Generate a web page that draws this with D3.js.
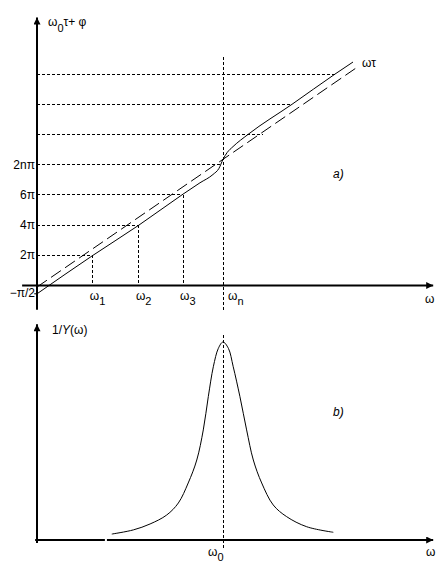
<!DOCTYPE html>
<html>
<head>
<meta charset="utf-8">
<script src="https://cdnjs.cloudflare.com/ajax/libs/d3/7.8.5/d3.min.js"></script>
<style>
  body { margin: 0; background: #fff; }
  text { font-family: "Liberation Sans", Arial, sans-serif; font-size: 12px; fill: #000; }
</style>
</head>
<body>
<div class="viewbox"></div>
<script>
const svg_width = 447;
const svg_height = 574;

// --- data (ω in units of ωn, phase in units of π) ---
const phaseTickValues = [-0.5, 2, 4, 6, 8];
const phaseTickLabels = ["\u2212\u03c0/2", "2\u03c0", "4\u03c0", "6\u03c0", "2n\u03c0"];

const gridLevels = [2, 4, 6, 8, 10, 12, 14];
const gridEnds = [0.30, 0.548, 0.785, 0.984, 1.215, 1.371, 1.613];

const freqNames = ["1", "2", "3", "n"];
const freqValues = [0.30, 0.548, 0.785, 1.0];
const freqLevels = [2, 4, 6, 15.1];

// straight ωτ line
const wtLine = [[0, -0.1], [1.715, 14.4]];

// ω0τ + φ curve
const phaseCurve = [
  [0, -0.55], [0.301, 2.0], [0.548, 4.0], [0.785, 6.05], [0.876, 6.8],
  [0.946, 7.35], [0.978, 7.75], [1.0, 8.35], [1.022, 8.8], [1.054, 9.2],
  [1.134, 10.0], [1.371, 12.0], [1.602, 14.0], [1.699, 14.8]
];

// 1/Y(ω) resonance curve
const resCurve = [
  [0.402, 0.030], [0.518, 0.051], [0.608, 0.081], [0.697, 0.126], [0.760, 0.187],
  [0.813, 0.288], [0.859, 0.404], [0.894, 0.556], [0.921, 0.724], [0.948, 0.875],
  [0.975, 0.968], [1.0, 1.0], [1.029, 0.968], [1.055, 0.875], [1.091, 0.724],
  [1.127, 0.556], [1.163, 0.404], [1.208, 0.288], [1.270, 0.177], [1.342, 0.118],
  [1.450, 0.067], [1.593, 0.039]
];

// --- scales ---
const x = d3.scaleLinear().domain([0, 1]).range([37, 223]);
const yTop = d3.scaleLinear().domain([0, 14]).range([285.5, 74.1]);
const yBot = d3.scaleLinear().domain([0, 1]).range([540, 342]);

let svg = d3.select(".viewbox")
  .append("svg")
  .attr("width", svg_width)
  .attr("height", svg_height);

// filled arrow head
svg.append("defs").append("marker")
  .attr("id", "arrow")
  .attr("viewBox", "0 0 10 10")
  .attr("refX", 10).attr("refY", 5)
  .attr("markerWidth", 9).attr("markerHeight", 7)
  .attr("markerUnits", "userSpaceOnUse")
  .attr("orient", "auto")
  .append("path")
  .attr("d", "M0,0 L10,5 L0,10 z")
  .attr("fill", "#000");

function seg(g, x1, y1, x2, y2) {
  return g.append("line")
    .attr("x1", x1).attr("y1", y1)
    .attr("x2", x2).attr("y2", y2)
    .attr("stroke", "#000");
}

// ================= a) top chart =================
let topG = svg.append("g");

// horizontal dashed levels
topG.selectAll(".hgrid")
  .data(gridLevels)
  .enter()
  .append("line")
  .attr("class", "hgrid")
  .attr("x1", x(0)).attr("x2", (d, i) => x(gridEnds[i]))
  .attr("y1", d => yTop(d)).attr("y2", d => yTop(d))
  .attr("stroke", "#000").attr("stroke-dasharray", "3,2")
  .attr("shape-rendering", "crispEdges");

// vertical dashed drops
topG.selectAll(".vgrid")
  .data(freqValues)
  .enter()
  .append("line")
  .attr("class", "vgrid")
  .attr("x1", d => x(d)).attr("x2", d => x(d))
  .attr("y1", (d, i) => yTop(freqLevels[i]))
  .attr("y2", (d, i) => i === 3 ? yTop(-1.6) : yTop(0))
  .attr("stroke", "#000").attr("stroke-dasharray", "3,2")
  .attr("shape-rendering", "crispEdges");

// axes
seg(topG, x(-0.08), yTop(0), x(2.13), yTop(0))
  .attr("stroke-width", 2).attr("marker-end", "url(#arrow)");
seg(topG, x(0), yTop(-1.6), x(0), yTop(17.75))
  .attr("stroke-width", 2).attr("marker-end", "url(#arrow)");
seg(topG, x(-0.015), yTop(-0.55), x(0), yTop(-0.55)).attr("stroke-width", 1);

// ωτ dashed straight line
topG.append("path")
  .datum(wtLine)
  .attr("d", d3.line().x(d => x(d[0])).y(d => yTop(d[1])))
  .attr("fill", "none").attr("stroke", "#000")
  .attr("stroke-dasharray", "12,5");

// ω0τ + φ
topG.append("path")
  .datum(phaseCurve)
  .attr("d", d3.line().x(d => x(d[0])).y(d => yTop(d[1])).curve(d3.curveMonotoneX))
  .attr("fill", "none").attr("stroke", "#000");

// y tick labels
topG.selectAll(".ytick")
  .data(phaseTickValues)
  .enter()
  .append("text")
  .attr("class", "ytick")
  .attr("x", 35)
  .attr("y", d => yTop(d) + 4)
  .attr("text-anchor", "end")
  .text((d, i) => phaseTickLabels[i]);

// ω1..ωn labels
let fl = topG.selectAll(".xtick")
  .data(freqValues)
  .enter()
  .append("text")
  .attr("class", "xtick")
  .attr("x", (d, i) => i === 3 ? x(d) + 5 : x(d) - 3)
  .attr("y", yTop(0) + 14);
fl.append("tspan").text("\u03c9");
fl.append("tspan").attr("dy", 5).attr("font-size", 11).text((d, i) => freqNames[i]);

// axis title
let yt = topG.append("text").attr("x", 48).attr("y", 26);
yt.append("tspan").text("\u03c9");
yt.append("tspan").attr("dy", 6).attr("font-size", 11).text("0");
yt.append("tspan").attr("dy", -6).text("\u03c4+ \u03c6");

topG.append("text").attr("x", 425).attr("y", 303).text("\u03c9");
topG.append("text").attr("x", 362).attr("y", 67).text("\u03c9\u03c4");
topG.append("text").attr("x", 333).attr("y", 178).attr("font-style", "italic").text("a)");

// ================= b) bottom chart =================
let botG = svg.append("g");

// ω0 dashed
seg(botG, x(1), 335, x(1), 548).attr("stroke-dasharray", "3,2")
  .attr("shape-rendering", "crispEdges");

// axes (small break in the baseline near the left, as in the drawing)
seg(botG, x(-0.01), yBot(0), x(0.365), yBot(0)).attr("stroke-width", 2);
seg(botG, x(0.376), yBot(0), x(2.13), yBot(0))
  .attr("stroke-width", 2).attr("marker-end", "url(#arrow)");
seg(botG, x(0), 543, x(0), yBot(1.09))
  .attr("stroke-width", 2).attr("marker-end", "url(#arrow)");

botG.append("path")
  .datum(resCurve)
  .attr("d", d3.line().x(d => x(d[0])).y(d => yBot(d[1])).curve(d3.curveCatmullRom))
  .attr("fill", "none").attr("stroke", "#000");

let bt = botG.append("text").attr("x", 52).attr("y", 334);
bt.append("tspan").text("1/");
bt.append("tspan").attr("font-style", "italic").text("Y");
bt.append("tspan").text("(\u03c9)");

botG.append("text").attr("x", 333).attr("y", 416).attr("font-style", "italic").text("b)");

let w0 = botG.append("text").attr("x", 208).attr("y", 556);
w0.append("tspan").text("\u03c9");
w0.append("tspan").attr("dy", 5).attr("font-size", 11).text("0");

botG.append("text").attr("x", 426).attr("y", 556).text("\u03c9");
</script>
</body>
</html>
